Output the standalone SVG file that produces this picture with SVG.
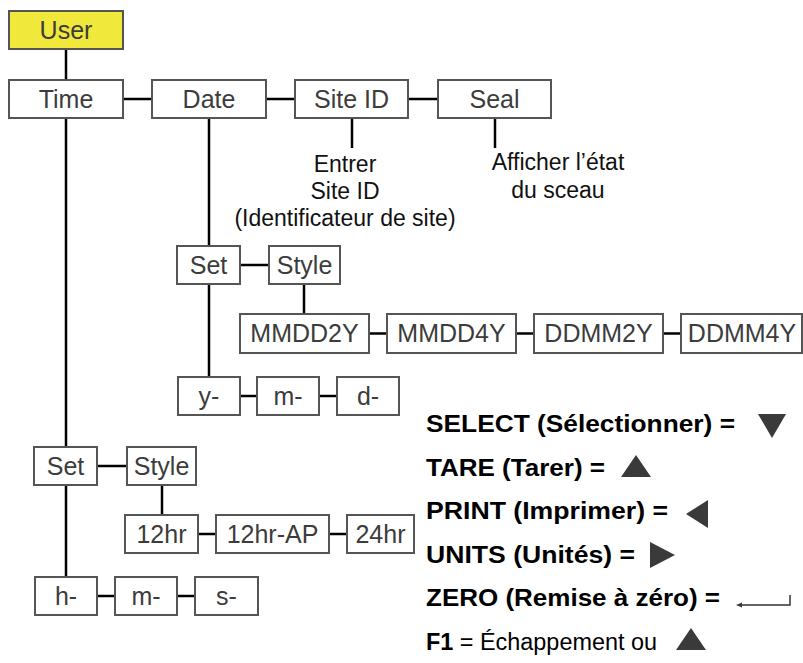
<svg xmlns="http://www.w3.org/2000/svg" width="803" height="663" viewBox="0 0 803 663">
<style>
.box{fill:#ffffff;stroke:#555555;stroke-width:2}
.user{fill:#f0e83a;stroke:#555555;stroke-width:2}
.bt{font-family:"Liberation Sans",Arial,sans-serif;font-size:25px;fill:#3c3c3c;text-anchor:middle}
.note{font-family:"Liberation Sans",Arial,sans-serif;font-size:23px;fill:#111111;text-anchor:middle}
.leg{font-family:"Liberation Sans",Arial,sans-serif;font-size:23.5px;fill:#000000;font-weight:bold}
.legn{font-weight:normal}
.con line{stroke:#000000;stroke-width:2.5}
.sym{fill:#3a3a3a}
</style>
<rect width="803" height="663" fill="#ffffff"/>
<g class="con">
<line x1="66" y1="49" x2="66" y2="80"/>
<line x1="123" y1="99" x2="152" y2="99"/>
<line x1="266" y1="99" x2="295" y2="99"/>
<line x1="408" y1="99" x2="438" y2="99"/>
<line x1="352" y1="118" x2="352" y2="148"/>
<line x1="495" y1="118" x2="495" y2="148"/>
<line x1="66" y1="118" x2="66" y2="577"/>
<line x1="209" y1="118" x2="209" y2="377"/>
<line x1="240" y1="265" x2="269" y2="265"/>
<line x1="304" y1="284" x2="304" y2="314"/>
<line x1="369" y1="333.5" x2="387" y2="333.5"/>
<line x1="516" y1="333.5" x2="534" y2="333.5"/>
<line x1="663" y1="333.5" x2="681" y2="333.5"/>
<line x1="240" y1="396" x2="257" y2="396"/>
<line x1="319" y1="396" x2="337" y2="396"/>
<line x1="97" y1="466" x2="127" y2="466"/>
<line x1="162" y1="485" x2="162" y2="515"/>
<line x1="198" y1="534" x2="216" y2="534"/>
<line x1="329" y1="534" x2="347" y2="534"/>
<line x1="97" y1="596" x2="115" y2="596"/>
<line x1="177" y1="596" x2="195" y2="596"/>
</g>
<g id="user"><rect class="user" x="9" y="11" width="114" height="38"/><text class="bt" x="66" y="39">User</text></g>
<g id="time"><rect class="box" x="9" y="80" width="114" height="38"/><text class="bt" x="66" y="108">Time</text></g>
<g id="date"><rect class="box" x="152" y="80" width="114" height="38"/><text class="bt" x="209" y="108">Date</text></g>
<g id="siteid"><rect class="box" x="295" y="80" width="113" height="38"/><text class="bt" x="351.5" y="108">Site ID</text></g>
<g id="seal"><rect class="box" x="438" y="80" width="113" height="38"/><text class="bt" x="494.5" y="108">Seal</text></g>
<g id="siteid-note"><text class="note" x="345" y="172">Entrer</text><text class="note" x="345" y="199">Site ID</text><text class="note" x="345" y="226">(Identificateur de site)</text></g>
<g id="seal-note"><text class="note" x="558" y="170">Afficher l’état</text><text class="note" x="558" y="198">du sceau</text></g>
<g id="date-set"><rect class="box" x="177" y="246" width="63" height="38"/><text class="bt" x="208.5" y="274">Set</text></g>
<g id="date-style"><rect class="box" x="269" y="246" width="71" height="38"/><text class="bt" x="304.5" y="274">Style</text></g>
<g id="mmdd2y"><rect class="box" x="240" y="314" width="129" height="39"/><text class="bt" x="304.5" y="342">MMDD2Y</text></g>
<g id="mmdd4y"><rect class="box" x="387" y="314" width="129" height="39"/><text class="bt" x="451.5" y="342">MMDD4Y</text></g>
<g id="ddmm2y"><rect class="box" x="534" y="314" width="129" height="39"/><text class="bt" x="598.5" y="342">DDMM2Y</text></g>
<g id="ddmm4y"><rect class="box" x="681" y="314" width="121" height="39"/><text class="bt" x="742" y="342">DDMM4Y</text></g>
<g id="date-y"><rect class="box" x="178" y="377" width="62" height="38"/><text class="bt" x="209" y="405">y-</text></g>
<g id="date-m"><rect class="box" x="257" y="377" width="62" height="38"/><text class="bt" x="288" y="405">m-</text></g>
<g id="date-d"><rect class="box" x="337" y="377" width="62" height="38"/><text class="bt" x="368" y="405">d-</text></g>
<g id="time-set"><rect class="box" x="34" y="447" width="63" height="38"/><text class="bt" x="65.5" y="475">Set</text></g>
<g id="time-style"><rect class="box" x="127" y="447" width="69" height="38"/><text class="bt" x="161.5" y="475">Style</text></g>
<g id="h12"><rect class="box" x="125" y="515" width="73" height="38"/><text class="bt" x="161.5" y="543">12hr</text></g>
<g id="h12ap"><rect class="box" x="216" y="515" width="113" height="38"/><text class="bt" x="272.5" y="543">12hr-AP</text></g>
<g id="h24"><rect class="box" x="347" y="515" width="67" height="38"/><text class="bt" x="380.5" y="543">24hr</text></g>
<g id="time-h"><rect class="box" x="35" y="577" width="62" height="38"/><text class="bt" x="66" y="605">h-</text></g>
<g id="time-m"><rect class="box" x="115" y="577" width="62" height="38"/><text class="bt" x="146" y="605">m-</text></g>
<g id="time-s"><rect class="box" x="195" y="577" width="63" height="38"/><text class="bt" x="226.5" y="605">s-</text></g>
<g id="legend">
<text class="leg" x="426" y="432" textLength="309" lengthAdjust="spacingAndGlyphs">SELECT (Sélectionner) =</text>
<polygon class="sym" points="758,414 786,414 772,438"/>
<text class="leg" x="426" y="475.5" textLength="179" lengthAdjust="spacingAndGlyphs">TARE (Tarer) =</text>
<polygon class="sym" points="621,477 651,477 636,455"/>
<text class="leg" x="426" y="519" textLength="242" lengthAdjust="spacingAndGlyphs">PRINT (Imprimer) =</text>
<polygon class="sym" points="708,500 708,528 686,514"/>
<text class="leg" x="426" y="562.5" textLength="209" lengthAdjust="spacingAndGlyphs">UNITS (Unités) =</text>
<polygon class="sym" points="650,542 650,568 675,555"/>
<text class="leg" x="426" y="606" textLength="294" lengthAdjust="spacingAndGlyphs">ZERO (Remise à zéro) =</text>
<path d="M741,605 H790 V595" fill="none" stroke="#333333" stroke-width="1.5"/>
<polygon class="sym" points="736,605 742,602.5 742,607.5"/>
<text class="leg" x="426" y="649.5" textLength="231" lengthAdjust="spacingAndGlyphs">F1 <tspan class="legn">= Échappement ou</tspan></text>
<polygon class="sym" points="676,650 706,650 691,628"/>
</g>
</svg>
